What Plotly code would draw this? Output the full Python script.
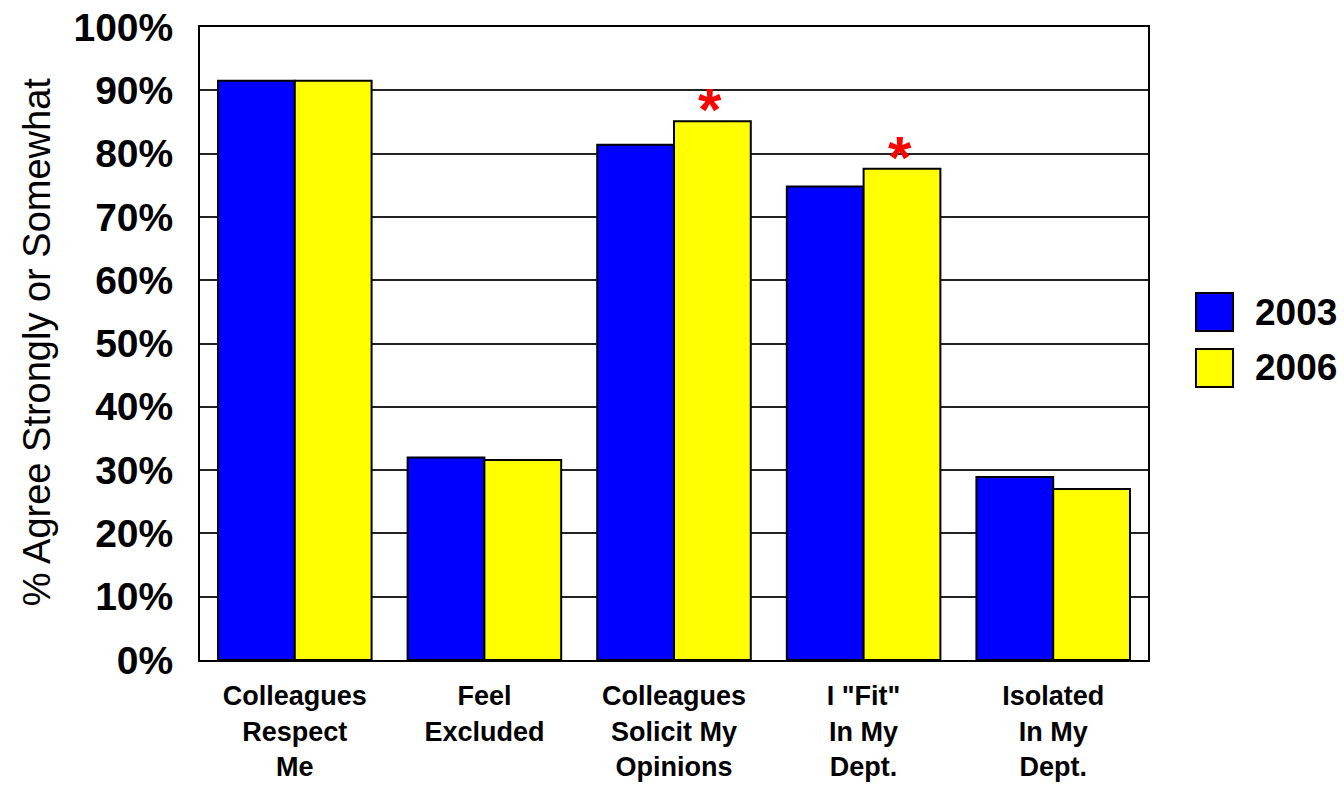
import plotly.graph_objects as go

categories = ["Colleagues<br>Respect<br>Me", "Feel<br>Excluded", "Colleagues<br>Solicit My<br>Opinions",
              "I \"Fit\"<br>In My<br>Dept.", "Isolated<br>In My<br>Dept."]
series_names = ["2003", "2006"]
values_2003 = [91.5, 32.0, 81.4, 74.8, 28.9]
values_2006 = [91.5, 31.6, 85.1, 77.6, 27.0]
significant_2006 = [False, False, True, True, False]
y_ticks = [0, 10, 20, 30, 40, 50, 60, 70, 80, 90, 100]
y_title = "% Agree Strongly or Somewhat"

colors = ["#0000FF", "#FFFF00"]
FONT = "Liberation Sans, Arial, sans-serif"

fig = go.Figure()
for name, vals, col in zip(series_names, [values_2003, values_2006], colors):
    fig.add_trace(go.Bar(x=categories, y=vals, name=name, marker=dict(color=col, line=dict(color="black", width=2)),
                         showlegend=False))

# significance asterisks above 2006 bars
for cat, v, sig in zip(categories, values_2006, significant_2006):
    if sig:
        fig.add_annotation(x=cat, y=v, xref="x", yref="y", text="<b>*</b>", showarrow=False,
                           xshift=36, yshift=-24, yanchor="bottom",
                           font=dict(family=FONT, size=60, color="#FF0000"))

# custom legend
box_y = [(0.5798, 0.5197), (0.4913, 0.4313)]
for name, col, (y1, y0) in zip(series_names, colors, box_y):
    fig.add_shape(type="rect", xref="paper", yref="paper", x0=1.0506, x1=1.0897, y0=y0, y1=y1,
                  fillcolor=col, line=dict(color="black", width=2))
    fig.add_annotation(xref="paper", yref="paper", x=1.1108, y=(y0 + y1) / 2, text=f"<b>{name}</b>",
                       showarrow=False, xanchor="left", yanchor="middle",
                       font=dict(family=FONT, size=37, color="black"))

fig.add_annotation(xref="paper", yref="paper", x=-0.172, y=0.502, text=y_title, textangle=-90, showarrow=False,
                   xanchor="center", yanchor="middle", font=dict(family=FONT, size=38, color="black"))

fig.update_layout(
    width=1344, height=788,
    margin=dict(l=200, r=196, t=27, b=128, autoexpand=False),
    paper_bgcolor="white", plot_bgcolor="white",
    barmode="group", bargap=0.19, bargroupgap=0,
    font=dict(family=FONT, color="black"),
)
fig.update_yaxes(range=[0, 100], tickvals=y_ticks, ticktext=[f"<b>{t}%</b>" for t in y_ticks],
                 tickfont=dict(size=39, family=FONT), showgrid=True, gridcolor="#222222", gridwidth=1.5,
                 showline=True, linecolor="black", linewidth=2, mirror=True, ticks="", ticklabelstandoff=17,
                 zeroline=False, automargin=False)
fig.update_xaxes(tickvals=categories, ticktext=["<b>" + c + "</b>" for c in categories],
                 tickfont=dict(size=27, family=FONT), showline=True, linecolor="black",
                 linewidth=2, mirror=True, ticks="", ticklabelstandoff=11, automargin=False)

fig.write_html("out.html")
